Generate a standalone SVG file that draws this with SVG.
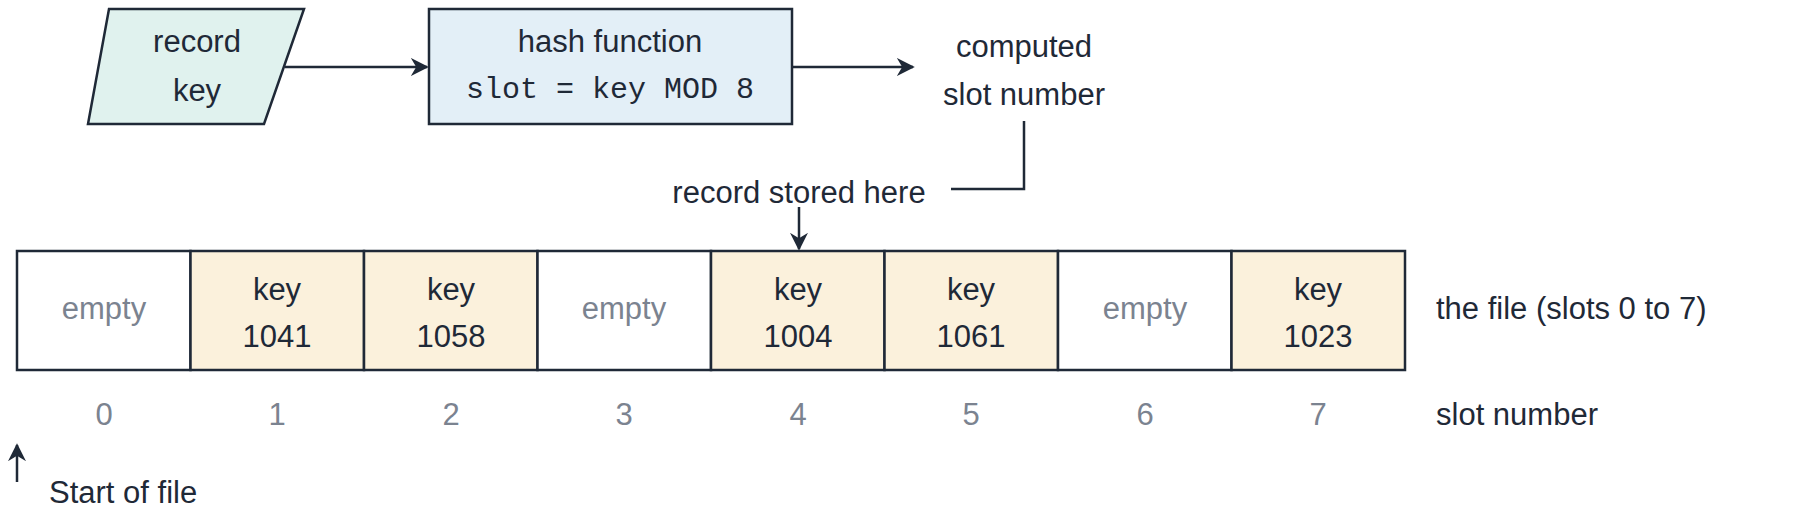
<svg xmlns="http://www.w3.org/2000/svg" width="1800" height="527" viewBox="0 0 1800 527">
<defs>
<marker id="ah" viewBox="0 0 10 10" refX="9" refY="5" markerWidth="7" markerHeight="7" markerUnits="userSpaceOnUse" orient="auto"><path d="M0,0 L10,5 L0,10 L3,5 z" fill="#1f2937"/></marker>
<marker id="ah2" viewBox="0 0 10 10" refX="9" refY="5" markerWidth="18" markerHeight="18" markerUnits="userSpaceOnUse" orient="auto"><path d="M0,0 L10,5 L0,10 L3,5 z" fill="#1f2937"/></marker>
</defs>
<style>
text{font-family:"Liberation Sans",Arial,sans-serif;font-size:31px;fill:#1f2937;text-anchor:middle;dominant-baseline:central}
.mono{font-family:"Liberation Mono","DejaVu Sans Mono",monospace;font-size:30px}
.g{fill:#7b8390}
.l{text-anchor:start}
.cell{stroke:#1f2937;stroke-width:2.5}
.k{fill:#fbf1dc}.e{fill:#ffffff}
line,path.c{stroke:#1f2937;stroke-width:2.5;fill:none}
</style>
<g id="record-key"><polygon points="109,9 304,9 264,124 88,124" fill="#e0f2ee" stroke="#1f2937" stroke-width="2.5"/><text x="197" y="41">record</text><text x="197" y="90">key</text></g>
<g id="hash"><rect x="429" y="9" width="363" height="115" fill="#e3eff7" stroke="#1f2937" stroke-width="2.5"/><text x="610" y="41">hash function</text><text class="mono" x="610" y="90">slot = key MOD 8</text></g>
<g id="computed"><text x="1024" y="46">computed</text><text x="1024" y="94">slot number</text></g>
<g id="stored"><text x="799" y="192">record stored here</text></g>
<g id="file">
<rect class="cell e" x="17" y="251" width="173.5" height="119"/>
<rect class="cell k" x="190.5" y="251" width="173.5" height="119"/>
<rect class="cell k" x="364" y="251" width="173.5" height="119"/>
<rect class="cell e" x="537.5" y="251" width="173.5" height="119"/>
<rect class="cell k" x="711" y="251" width="173.5" height="119"/>
<rect class="cell k" x="884.5" y="251" width="173.5" height="119"/>
<rect class="cell e" x="1058" y="251" width="173.5" height="119"/>
<rect class="cell k" x="1231.5" y="251" width="173.5" height="119"/>
<text class="g" x="104" y="308">empty</text>
<text x="277" y="289">key</text><text x="277" y="336">1041</text>
<text x="451" y="289">key</text><text x="451" y="336">1058</text>
<text class="g" x="624" y="308">empty</text>
<text x="798" y="289">key</text><text x="798" y="336">1004</text>
<text x="971" y="289">key</text><text x="971" y="336">1061</text>
<text class="g" x="1145" y="308">empty</text>
<text x="1318" y="289">key</text><text x="1318" y="336">1023</text>
<text class="l" x="1436" y="308">the file (slots 0 to 7)</text>
</g>
<g id="slots">
<text class="g" x="104" y="414">0</text><text class="g" x="277" y="414">1</text><text class="g" x="451" y="414">2</text><text class="g" x="624" y="414">3</text><text class="g" x="798" y="414">4</text><text class="g" x="971" y="414">5</text><text class="g" x="1145" y="414">6</text><text class="g" x="1318" y="414">7</text>
<text class="l" x="1436" y="414">slot number</text>
</g>
<g id="start"><text class="l" x="49" y="492">Start of file</text></g>
<g id="connectors">
<line x1="285" y1="67" x2="427" y2="67" marker-end="url(#ah2)"/>
<line x1="792" y1="67" x2="913" y2="67" marker-end="url(#ah2)"/>
<path class="c" d="M1024,121 V189 H951"/>
<line x1="799" y1="207" x2="799" y2="249" marker-end="url(#ah2)"/>
<line x1="17" y1="482" x2="17" y2="445" marker-end="url(#ah2)"/>
</g>
</svg>
